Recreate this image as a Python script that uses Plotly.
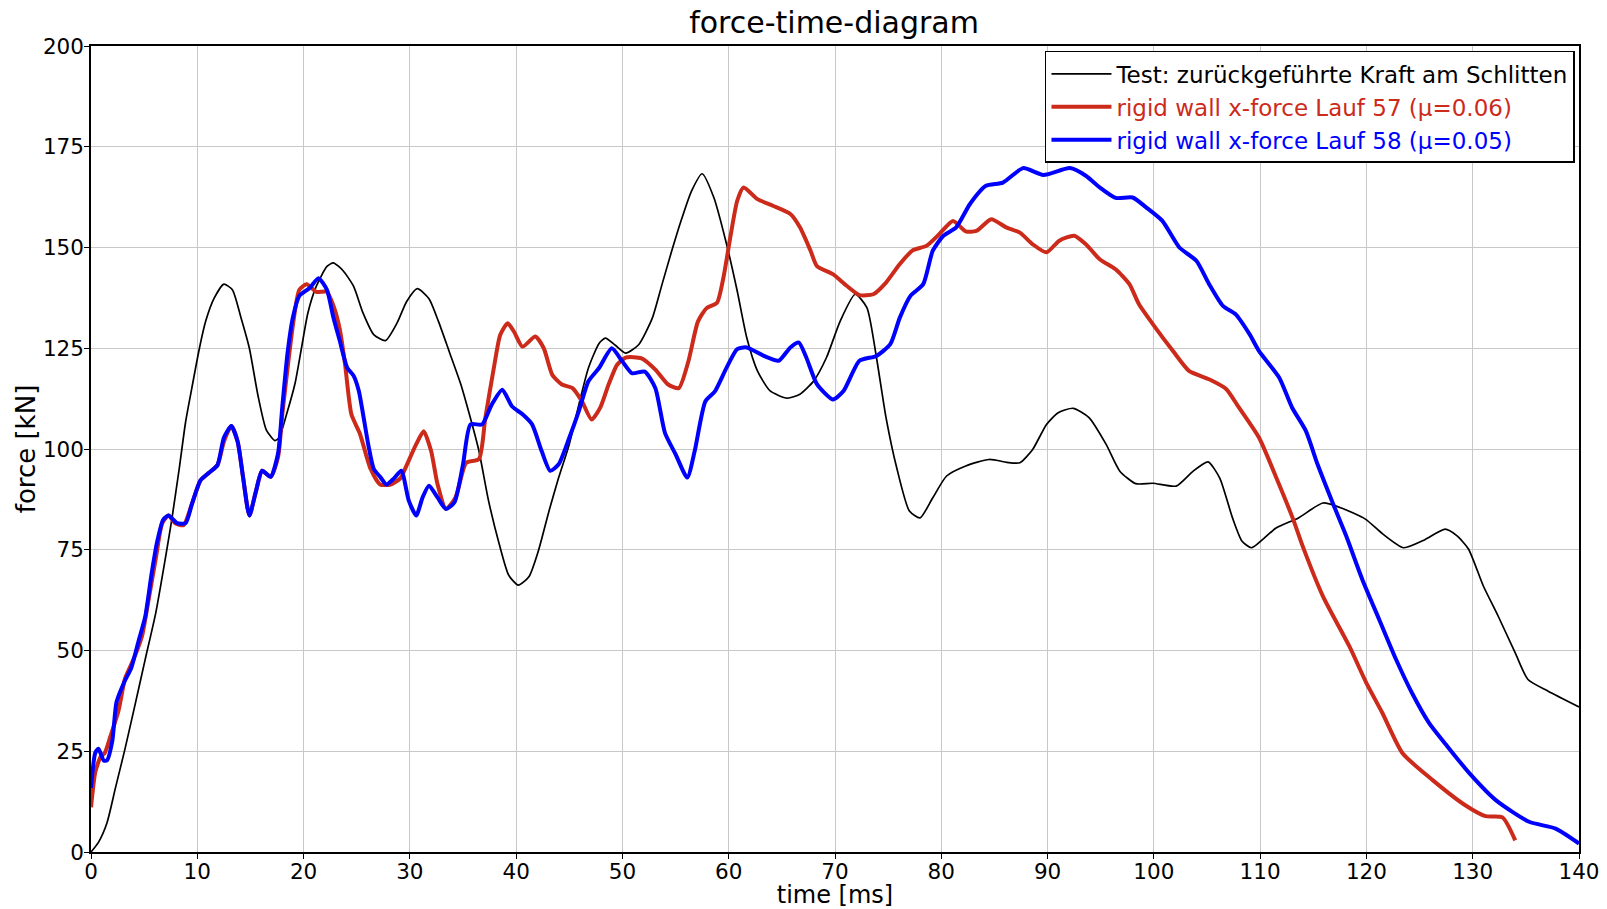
import plotly.graph_objects as go

# ---- data ----
t_test = [0, 0.7, 1.5, 2.3, 3.2, 4.2, 5.1, 6.1, 7.0, 7.6, 8.3, 8.9, 9.5, 10.2, 10.8, 11.6,
          12.5, 13.3, 14.1, 14.9, 15.7, 16.5, 17.3, 17.7, 18.4, 19.2, 19.8, 20.4, 21.2, 22.2,
          22.8, 23.7, 24.7, 25.6, 26.6, 27.7, 28.8, 29.7, 30.7, 31.8, 32.7, 33.7, 34.8, 35.6,
          36.5, 37.4, 38.4, 39.3, 40.2, 41.2, 42.1, 43.1, 44.0, 45.0, 45.9, 46.8, 47.8, 48.4,
          49.3, 50.3, 51.5, 52.8, 53.7, 54.6, 55.5, 56.5, 57.5, 58.6, 59.8, 60.8, 61.7, 62.7,
          63.9, 65.5, 66.7, 68.0, 69.2, 70.5, 71.9, 73.0, 73.9, 74.8, 75.8, 77.0, 78.0, 79.2,
          80.5, 82.3, 84.5, 86.4, 87.4, 88.6, 89.9, 91.0, 92.4, 93.9, 95.5, 96.8, 98.3, 99.9,
          102.1, 103.7, 105.1, 106.2, 107.4, 108.3, 109.2, 111.5, 113.6, 115.9, 117.5, 119.9,
          121.5, 123.5, 125.5, 127.4, 128.5, 129.6, 131.0, 132.4, 134.0, 135.2, 137.1, 140.0]
f_test = [0, 2.4, 7.2, 15.9, 25.6, 37.2, 47.8, 59.4, 72.9, 82.5, 95.1, 106.7, 115.3, 125.0,
          131.8, 137.5, 140.9, 139.5, 132.7, 125.0, 113.4, 104.7, 102.1, 102.8, 108.6, 116.3,
          125.0, 133.7, 140.4, 145.3, 146.2, 144.3, 140.4, 133.7, 128.4, 126.9, 131.3, 136.6,
          139.8, 137.3, 131.6, 124.2, 116.0, 108.6, 99.5, 87.2, 76.5, 68.7, 66.2, 68.3, 74.8,
          84.7, 92.9, 101.2, 111.0, 120.1, 126.2, 127.5, 125.8, 123.8, 125.8, 132.4, 140.6,
          148.8, 156.5, 164.0, 168.3, 162.4, 150.8, 139.2, 127.6, 119.4, 114.4, 112.6, 113.6,
          116.9, 122.7, 131.8, 138.4, 135.1, 122.7, 107.8, 95.4, 84.6, 82.9, 87.9, 93.3, 95.8,
          97.4, 96.6, 96.6, 99.9, 106.1, 109.0, 110.1, 107.8, 101.2, 94.5, 91.4, 91.5, 90.8,
          94.5, 96.8, 92.8, 82.9, 77.1, 75.5, 80.4, 82.9, 86.6, 85.5, 82.6, 79.0, 75.5, 77.5,
          80.1, 78.5, 75.2, 66.0, 58.5, 49.4, 42.8, 39.9, 36.0]

t_57 = [0, 0.4, 0.9, 1.3, 1.8, 2.6, 3.2, 4.0, 4.8, 5.4, 6.1, 6.7, 7.3, 7.9, 8.7, 9.5, 10.3,
        11.1, 11.9, 12.5, 13.2, 13.8, 14.3, 14.9, 15.5, 16.1, 16.9, 17.6, 18.0, 18.5, 19.0,
        19.6, 20.3, 21.2, 22.2, 22.8, 23.4, 23.9, 24.5, 25.3, 26.3, 27.2, 28.2, 29.1, 29.6,
        30.6, 31.3, 32.0, 32.6, 33.4, 34.3, 35.3, 36.5, 37.1, 37.9, 38.5, 39.2, 39.8, 40.6,
        41.8, 42.6, 43.4, 44.3, 45.3, 46.2, 47.1, 47.9, 48.7, 49.5, 50.3, 51.8, 53.1, 54.3,
        55.3, 56.2, 57.1, 57.9, 58.9, 59.5, 60.2, 60.8, 61.4, 62.7, 64.2, 65.8, 66.7, 67.7,
        68.3, 69.8, 71.1, 72.3, 73.6, 74.8, 76.1, 77.3, 78.6, 79.8, 81.1, 82.3, 83.3, 84.7,
        86.1, 87.4, 88.6, 89.9, 91.1, 92.5, 93.6, 94.9, 96.4, 97.7, 98.6, 99.9, 101.8, 103.3,
        105.2, 106.8, 108.0, 109.9, 111.5, 113.1, 114.0, 115.9, 118.4, 120.0, 121.5, 123.4,
        126.2, 129.3, 131.2, 132.8, 134.0]
f_57 = [11.1, 19.8, 23.6, 24.6, 28.5, 35.2, 43.0, 47.8, 53.6, 62.3, 72.9, 81.6, 83.5, 81.6,
        81.1, 86.4, 92.2, 94.1, 96.0, 101.8, 105.7, 101.8, 93.1, 83.5, 89.3, 94.6, 93.1, 98.0,
        108.6, 120.2, 130.8, 139.5, 140.9, 139.0, 139.0, 135.6, 129.8, 121.1, 108.6, 103.8,
        95.1, 91.2, 91.2, 92.7, 95.4, 101.2, 104.4, 99.5, 91.3, 85.1, 88.0, 96.6, 97.5, 107.7,
        120.1, 128.3, 131.2, 129.1, 125.4, 127.9, 125.0, 118.4, 116.0, 115.1, 111.8, 107.3,
        110.2, 116.0, 120.9, 122.7, 122.5, 119.7, 116.0, 115.1, 121.7, 131.6, 134.9, 136.3,
        142.5, 153.3, 161.6, 164.9, 162.0, 160.3, 158.3, 155.0, 149.2, 145.4, 143.4, 140.5,
        138.2, 138.4, 141.3, 145.9, 149.3, 150.4, 153.3, 156.6, 154.0, 154.1, 157.0, 155.0,
        153.7, 150.8, 148.8, 151.7, 152.9, 150.8, 147.1, 144.6, 140.9, 135.9, 131.0, 124.3,
        119.4, 117.3, 114.9, 110.3, 102.8, 93.0, 82.6, 75.9, 63.5, 51.0, 41.9, 34.5, 24.5,
        17.9, 11.6, 8.9, 8.6, 2.9]

t_58 = [0, 0.4, 0.7, 1.2, 1.5, 2.0, 2.4, 3.1, 3.8, 4.5, 5.1, 5.7, 6.2, 6.8, 7.3, 8.1, 8.9,
        9.5, 10.3, 11.1, 11.9, 12.5, 13.2, 13.8, 14.3, 14.9, 15.5, 16.1, 16.9, 17.6, 18.0,
        18.5, 19.0, 19.6, 20.6, 21.4, 22.2, 22.8, 23.4, 24.1, 24.7, 25.2, 25.6, 26.1, 26.6,
        27.2, 27.8, 28.5, 29.2, 29.9, 30.6, 31.2, 31.8, 32.6, 33.4, 34.2, 35.0, 35.7, 36.8,
        37.7, 38.7, 39.6, 40.6, 41.5, 42.4, 43.2, 44.0, 45.0, 45.9, 46.8, 47.8, 49.0, 50.0,
        50.9, 52.1, 53.1, 54.0, 55.0, 56.1, 56.8, 57.8, 58.7, 59.8, 60.8, 61.7, 63.3, 64.7,
        65.8, 66.6, 67.3, 68.3, 69.8, 70.8, 72.3, 73.9, 75.2, 76.1, 77.1, 78.3, 79.2, 80.2,
        81.4, 82.7, 84.2, 85.8, 87.7, 89.6, 92.1, 93.6, 94.9, 96.4, 98.0, 99.3, 100.8, 102.4,
        104.0, 105.2, 106.5, 107.7, 109.0, 109.9, 111.8, 113.0, 114.3, 115.4, 116.8, 118.1,
        119.6, 121.2, 122.8, 124.3, 125.9, 127.5, 129.7, 132.2, 135.3, 137.8, 140.0]
f_58 = [15.9, 24.6, 25.6, 22.7, 22.7, 27.5, 37.2, 42.0, 45.8, 52.6, 58.4, 69.0, 76.7, 82.5,
        83.5, 81.6, 81.6, 86.4, 92.2, 94.1, 96.0, 102.8, 105.7, 101.8, 93.1, 83.5, 89.3, 94.6,
        93.1, 98.9, 110.5, 124.0, 132.7, 138.0, 140.0, 142.4, 139.5, 132.7, 126.9, 120.2,
        118.2, 114.4, 108.6, 100.9, 95.1, 93.1, 91.2, 92.7, 94.6, 87.2, 83.5, 88.0, 90.9,
        88.0, 85.1, 86.8, 96.2, 106.1, 106.1, 111.0, 114.7, 110.6, 108.6, 106.1, 99.5, 94.6,
        96.2, 102.8, 109.4, 116.8, 120.1, 125.0, 121.7, 118.8, 119.2, 115.1, 104.0, 98.7,
        92.9, 99.5, 111.8, 114.3, 120.2, 124.8, 125.2, 123.1, 121.9, 125.2, 126.4, 122.7,
        116.1, 112.3, 114.4, 121.9, 123.1, 126.0, 132.6, 138.0, 140.9, 149.2, 152.9, 155.0,
        160.8, 165.3, 166.1, 169.7, 168.0, 169.7, 167.8, 164.9, 162.3, 162.4, 159.9, 156.6,
        150.0, 146.7, 140.9, 135.5, 133.4, 128.5, 124.3, 117.7, 110.3, 104.5, 96.2, 86.8,
        78.4, 67.7, 57.7, 47.7, 39.4, 32.0, 26.6, 19.5, 12.8, 7.5, 5.8, 2.1]

x_ticks = [0, 10, 20, 30, 40, 50, 60, 70, 80, 90, 100, 110, 120, 130, 140]
y_ticks = [0, 25, 50, 75, 100, 125, 150, 175, 200]

name_test = "Test: zurückgeführte Kraft am Schlitten"
name_57 = "rigid wall x-force Lauf 57 (µ=0.06)"
name_58 = "rigid wall x-force Lauf 58 (µ=0.05)"

RED = "#cc2a1a"
BLUE = "#0000ff"
FONT = "DejaVu Sans"

fig = go.Figure()
fig.add_trace(go.Scatter(x=t_test, y=f_test, mode="lines", name=name_test, legendgroup="a",
                         line=dict(color="black", width=1.7, shape="spline", smoothing=0.6)))
fig.add_trace(go.Scatter(x=t_57, y=f_57, mode="lines", legendgroup="b",
                         name=f'<span style="color:{RED}">{name_57}</span>',
                         line=dict(color=RED, width=4, shape="spline", smoothing=0.6)))
fig.add_trace(go.Scatter(x=t_58, y=f_58, mode="lines", legendgroup="c",
                         name=f'<span style="color:{BLUE}">{name_58}</span>',
                         line=dict(color=BLUE, width=4, shape="spline", smoothing=0.6)))

axis_common = dict(showline=True, linecolor="black", linewidth=1.5, mirror=True,
                   showgrid=True, gridcolor="#c8c8c8", gridwidth=1.3,
                   ticks="outside", ticklen=5, tickcolor="black", tickwidth=1,
                   zeroline=False, automargin=False,
                   tickfont=dict(family=FONT, size=21.5, color="black"))

fig.update_layout(
    width=1607, height=909,
    margin=dict(l=91, r=28, t=46, b=57, autoexpand=False),
    paper_bgcolor="white", plot_bgcolor="white",
    font=dict(family=FONT, color="black"),
    title=dict(text="force-time-diagram", x=0.519, xanchor="center", y=0.975, yanchor="middle",
               font=dict(family=FONT, size=30, color="black")),
    showlegend=True,
    legend=dict(x=0.9973, xanchor="right", y=0.9938, yanchor="top",
                bgcolor="white", bordercolor="black", borderwidth=1.5,
                font=dict(family=FONT, size=23, color="black"),
                tracegroupgap=0, itemwidth=60),
    xaxis=dict(range=[0, 140], tickvals=x_ticks, ticklabelstandoff=-6,
               title=dict(text="time [ms]", font=dict(family=FONT, size=24), standoff=3),
               **axis_common),
    yaxis=dict(range=[0, 200], tickvals=y_ticks, ticklabelstandoff=-4,
               title=dict(text="force [kN]", font=dict(family=FONT, size=26), standoff=0),
               **axis_common),
)

fig.write_html("out.html")
